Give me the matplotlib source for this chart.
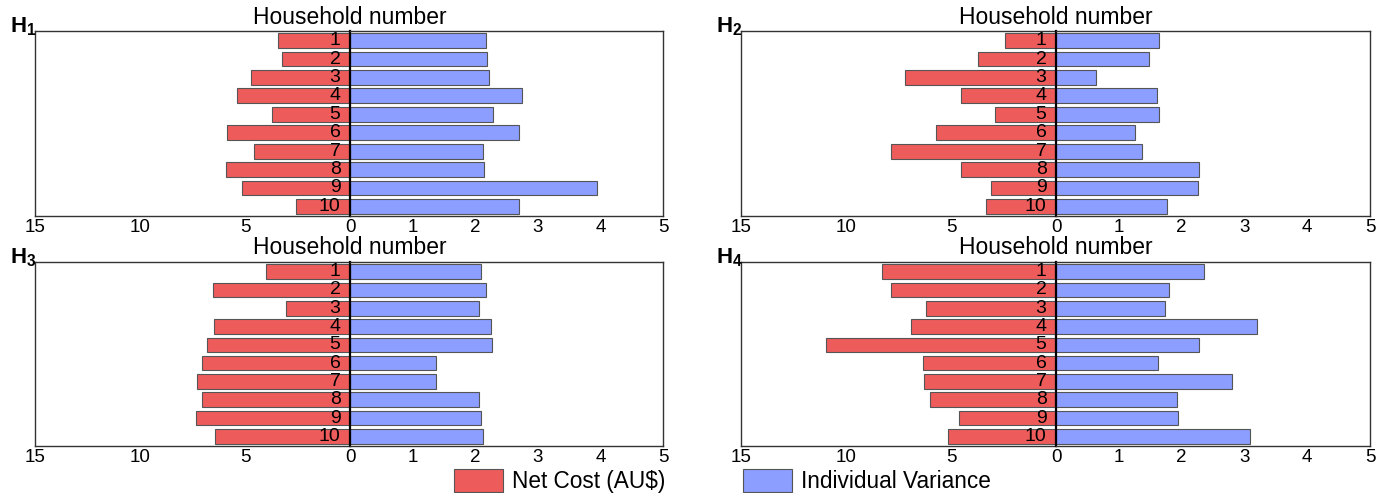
import matplotlib
matplotlib.use('Agg')
import matplotlib.pyplot as plt
from matplotlib.patches import Patch

plt.rcParams['font.family'] = ['Liberation Sans', 'DejaVu Sans']
plt.rcParams['mathtext.fontset'] = 'custom'
plt.rcParams['mathtext.bf'] = 'Liberation Sans:bold'
plt.rcParams['mathtext.rm'] = 'Liberation Sans'

households = [1, 2, 3, 4, 5, 6, 7, 8, 9, 10]

cost_h1 = [3.43, 3.26, 4.72, 5.38, 3.72, 5.85, 4.57, 5.91, 5.15, 2.57]
cost_h2 = [2.42, 3.71, 7.18, 4.51, 2.90, 5.72, 7.88, 4.51, 3.09, 3.35]
cost_h3 = [4.00, 6.53, 3.04, 6.49, 6.83, 7.06, 7.30, 7.06, 7.34, 6.45]
cost_h4 = [8.28, 7.86, 6.19, 6.89, 10.95, 6.33, 6.29, 6.02, 4.62, 5.15]

# Individual variance, right half of each panel
var_h1 = [2.18, 2.19, 2.22, 2.74, 2.28, 2.70, 2.13, 2.14, 3.94, 2.70]
var_h2 = [1.64, 1.48, 0.64, 1.61, 1.64, 1.25, 1.37, 2.27, 2.26, 1.77]
var_h3 = [2.09, 2.18, 2.06, 2.26, 2.27, 1.38, 1.38, 2.06, 2.09, 2.12]
var_h4 = [2.36, 1.80, 1.73, 3.20, 2.27, 1.63, 2.80, 1.92, 1.94, 3.09]

RED = '#EE5B5B'
BLUE = '#8C9EFF'
EDGE = '#555555'
W, H = 1396, 493


def draw_panel(fig, x0, x1, xmid, ytop, ybot, cost, var, tag):
    """Back-to-back bars: net cost to the left (0-15), variance right (0-5)."""
    b = 1 - ybot / H
    h = (ybot - ytop) / H
    axl = fig.add_axes([x0 / W, b, (xmid - x0) / W, h])
    axr = fig.add_axes([xmid / W, b, (x1 - xmid) / W, h])

    axl.barh(households, cost, height=0.8, color=RED, edgecolor=EDGE, linewidth=0.8)
    axr.barh(households, var, height=0.8, color=BLUE, edgecolor=EDGE, linewidth=0.8)

    axl.set_xlim(15, 0)
    axr.set_xlim(0, 5)
    for ax in (axl, axr):
        ax.set_ylim(10.52, 0.48)
        ax.set_yticks([])
        ax.tick_params(axis='x', length=0, pad=2, labelsize=13.5)
        for s in ax.spines.values():
            s.set_color('#333333')
            s.set_linewidth(1.0)
    axl.set_xticks([15, 10, 5, 0])
    axr.set_xticks([1, 2, 3, 4, 5])
    axl.spines['right'].set_visible(False)
    axr.spines['left'].set_color('black')
    axr.spines['left'].set_linewidth(1.6)

    for hh in households:
        axl.text(0.45, hh, str(hh), ha='right', va='center', fontsize=14)

    fig.text(xmid / W, 1 - (ytop - 14) / H, 'Household number',
             ha='center', va='center', fontsize=16.5)
    fig.text((x0 - 25) / W, 1 - (ytop - 4) / H, r'$\mathbf{H_' + tag + '}$',
             ha='left', va='center', fontsize=16)


fig = plt.figure(figsize=(W / 100, H / 100), dpi=100)

draw_panel(fig, 35, 663, 350, 31, 216, cost_h1, var_h1, '1')
draw_panel(fig, 741, 1370, 1056, 31, 216, cost_h2, var_h2, '2')
draw_panel(fig, 35, 663, 350, 262, 446, cost_h3, var_h3, '3')
draw_panel(fig, 741, 1370, 1056, 262, 446, cost_h4, var_h4, '4')

handles = [Patch(facecolor=RED, edgecolor=EDGE, linewidth=0.8, label='Net Cost (AU$)'),
           Patch(facecolor=BLUE, edgecolor=EDGE, linewidth=0.8, label='Individual Variance')]
fig.legend(handles=handles, loc='lower left', bbox_to_anchor=(454 / W, 0.0),
           ncol=2, frameon=False, fontsize=16.3, handlelength=2.17, handleheight=1.15,
           handletextpad=0.4, columnspacing=3.4, borderpad=0, borderaxespad=0)

fig.savefig('out.png', dpi=100)
